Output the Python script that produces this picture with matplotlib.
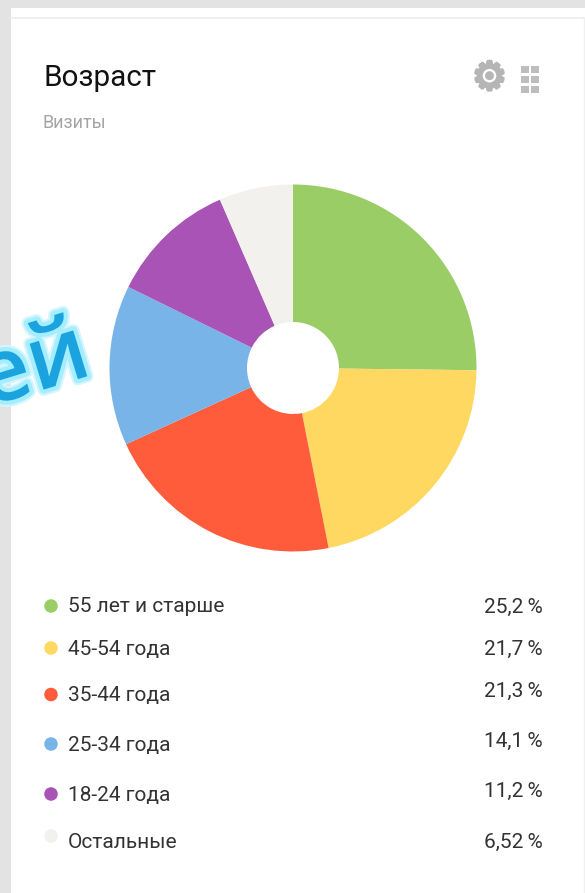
import matplotlib
matplotlib.use("Agg")
import matplotlib.pyplot as plt
import matplotlib.patheffects as pe
from matplotlib.patches import Rectangle

categories = ["55 лет и старше", "45-54 года", "35-44 года", "25-34 года", "18-24 года", "Остальные"]
values = [25.2, 21.7, 21.3, 14.1, 11.2, 6.52]
value_labels = ["25,2\u202f%", "21,7\u202f%", "21,3\u202f%", "14,1\u202f%", "11,2\u202f%", "6,52\u202f%"]
colors = ["#9ACD66", "#FFD862", "#FF5C3B", "#78B4E8", "#A853B5", "#F2F1ED"]

W, H = 585, 893
FONT = ["Roboto", "DejaVu Sans"]
fig = plt.figure(figsize=(W / 100, H / 100), dpi=100, facecolor="white")

bg = fig.add_axes([0, 0, 1, 1])
bg.set_xlim(0, W)
bg.set_ylim(H, 0)
bg.axis("off")

# page frame
bg.add_patch(Rectangle((0, 0), W, 8, fc="#E3E3E3", ec="none"))
bg.add_patch(Rectangle((0, 0), 11, H, fc="#E3E3E3", ec="none"))
bg.plot([11, W], [18, 18], color="#EDEDED", lw=1.2)
bg.plot([583.5, 583.5], [18, H], color="#F0F0F0", lw=1)

# titles
bg.text(43, 78, "Возраст", fontsize=21.3, family=FONT, color="#111111", va="center", ha="left")
bg.text(43, 123.5, "Визиты", fontsize=13, family=FONT, color="#A5A5A5", va="center", ha="left")

# icons
bg.text(489.5, 78.5, "\u2699", fontsize=28, family="DejaVu Sans", color="#B5B5B5", va="center", ha="center",
        path_effects=[pe.withStroke(linewidth=2.2, foreground="#B5B5B5")])
for gx in (524.5, 534.5):
    for gy in (69.5, 79.5, 89.5):
        bg.add_patch(Rectangle((gx - 3.5, gy - 3.5), 7.5, 7, fc="#BDBDBD", ec="none"))

# overlapping watermark fragment
bg.text(34, 368, "ей", fontsize=64, family="Open Sans", weight="semibold", color="#1BA3DF",
        rotation=17, rotation_mode="anchor", ha="center", va="center",
        path_effects=[pe.withStroke(linewidth=9, foreground="#D5F6FF"),
                      pe.withStroke(linewidth=6, foreground="#A5EEFF")], zorder=3)

# donut
cx, cy, R, r = 293, 368, 183.5, 46
ax = fig.add_axes([(cx - R) / W, 1 - (cy + R) / H, 2 * R / W, 2 * R / H])
ax.pie(values, colors=colors, startangle=90, counterclock=False, radius=1,
       wedgeprops=dict(width=(R - r) / R, edgecolor="none"))
ax.set_xlim(-1, 1)
ax.set_ylim(-1, 1)
ax.set_aspect("equal")
ax.patch.set_alpha(0)

# legend rows
dot_y = [606, 648, 694.5, 744, 794, 836]
text_y = [607, 649, 695, 746, 795, 842]
val_y = [607, 649, 691, 741, 791, 842]
for name, lab, col, dy, ty, vy in zip(categories, value_labels, colors, dot_y, text_y, val_y):
    bg.scatter([51], [dy], s=95, color=col, edgecolor="none", zorder=3)
    bg.text(68, ty, name, fontsize=15, family=FONT, color="#333333", va="center", ha="left")
    bg.text(543, vy, lab, fontsize=15, family=FONT, color="#333333", va="center", ha="right")

fig.savefig("out.png", dpi=100, facecolor="white")
